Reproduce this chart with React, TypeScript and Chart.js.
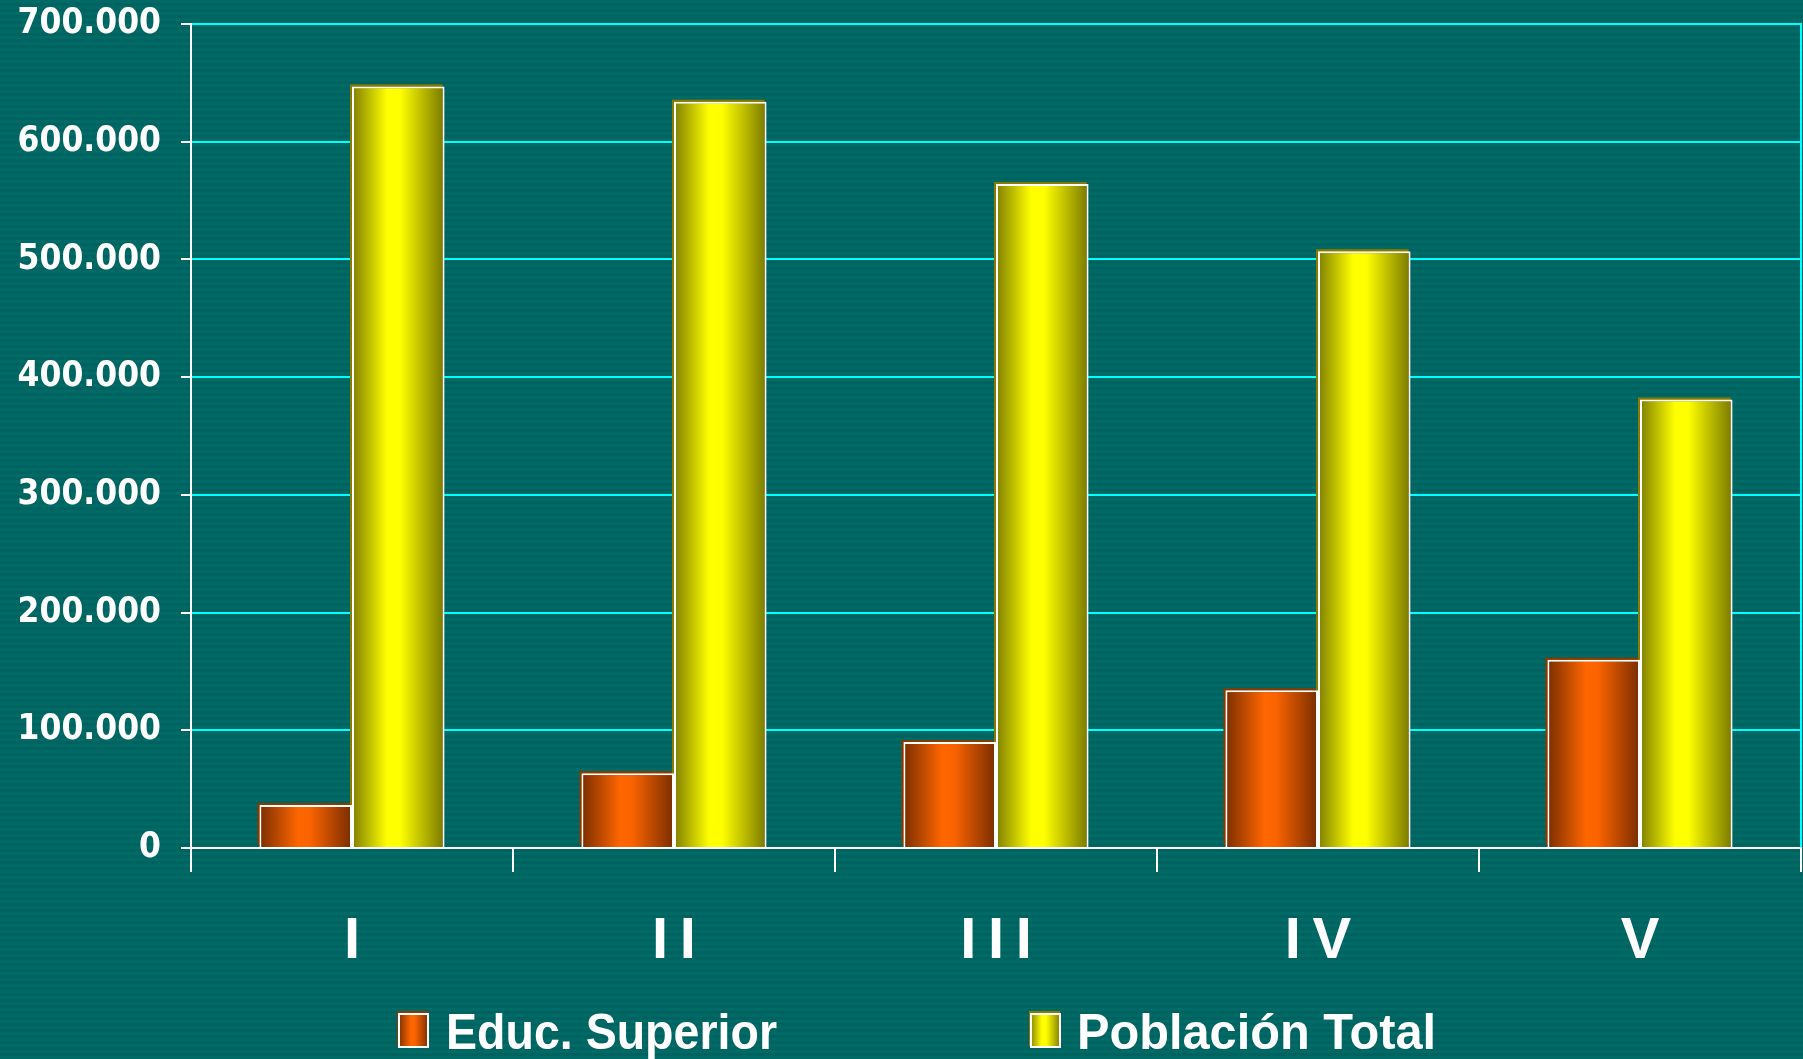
import { useEffect, useRef } from "react";
import { Chart, registerables } from "chart.js";

Chart.register(...registerables);

const categories = ["I", "II", "III", "IV", "V"];
const seriesNames = ["Educ. Superior", "Población Total"];
const educSuperior = [36500, 63600, 90000, 134000, 160000];
const poblacionTotal = [647000, 634000, 564000, 507000, 381000];
const yTicks = [0, 100000, 200000, 300000, 400000, 500000, 600000, 700000];

const CAT_PCT = 0.575;
const BAR_PCT = 1;

type Stop = [number, string];
const orangeStops: Stop[] = [
  [0, "#7a2e00"],
  [0.42, "#ff6600"],
  [0.55, "#f96300"],
  [1, "#782d00"],
];
const yellowStops: Stop[] = [
  [0, "#7f7f00"],
  [0.38, "#ffff00"],
  [0.52, "#ffff00"],
  [1, "#787800"],
];
const shadowColors = ["#8a3a00", "#8a7a00"];

function makeGradient(ctx: CanvasRenderingContext2D, left: number, width: number, stops: Stop[]) {
  const g = ctx.createLinearGradient(left, 0, left + width, 0);
  stops.forEach(([o, c]) => g.addColorStop(o, c));
  return g;
}

function barFill(stops: Stop[]) {
  return (c: any) => {
    const chart = c.chart;
    const xs = chart.scales && chart.scales.x;
    if (!xs || c.type !== "data") return stops[1][1];
    const catW = (xs.right - xs.left) / categories.length;
    const groupW = catW * CAT_PCT;
    const slotW = groupW / 2;
    const barW = slotW * BAR_PCT;
    const center = xs.getPixelForValue(c.dataIndex);
    const left = center - groupW / 2 + c.datasetIndex * slotW + (slotW - barW) / 2;
    if (!isFinite(left) || !isFinite(barW) || barW <= 0) return stops[1][1];
    return makeGradient(chart.ctx, left, barW, stops);
  };
}

const formatThousands = (v: number) =>
  v === 0 ? "0" : String(v).replace(/\B(?=(\d{3})+(?!\d))/g, ".");

const backgroundPlugin = {
  id: "stripedBackground",
  beforeDraw(chart: any) {
    const ctx = chart.ctx as CanvasRenderingContext2D;
    const pc = document.createElement("canvas");
    pc.width = 4;
    pc.height = 6;
    const p = pc.getContext("2d")!;
    p.fillStyle = "#006b66";
    p.fillRect(0, 0, 4, 3);
    p.fillStyle = "#00635f";
    p.fillRect(0, 3, 4, 3);
    ctx.save();
    ctx.fillStyle = ctx.createPattern(pc, "repeat")!;
    ctx.fillRect(0, 0, chart.width, chart.height);
    ctx.restore();
  },
};

const shadowPlugin = {
  id: "barShadow",
  beforeDatasetsDraw(chart: any) {
    const ctx = chart.ctx as CanvasRenderingContext2D;
    ctx.save();
    chart.data.datasets.forEach((_: any, di: number) => {
      const meta = chart.getDatasetMeta(di);
      ctx.fillStyle = shadowColors[di];
      meta.data.forEach((el: any) => {
        const { x, y, base, width } = el.getProps(["x", "y", "base", "width"], true);
        ctx.fillRect(x - width / 2 - 2, y - 2, width, base - y);
      });
    });
    ctx.restore();
  },
};

const legendPlugin = {
  id: "customLegend",
  afterDraw(chart: any) {
    const ctx = chart.ctx as CanvasRenderingContext2D;
    const items = [
      { boxX: 398, textX: 446, textW: 331, stops: orangeStops, shadow: shadowColors[0] },
      { boxX: 1030, textX: 1077, textW: 359, stops: yellowStops, shadow: shadowColors[1] },
    ];
    const boxY = 1013;
    const boxW = 31;
    const boxH = 35;
    ctx.save();
    items.forEach((it, i) => {
      ctx.fillStyle = it.shadow;
      ctx.fillRect(it.boxX - 1, boxY - 2, boxW, boxH);
      ctx.fillStyle = makeGradient(ctx, it.boxX, boxW, it.stops);
      ctx.fillRect(it.boxX, boxY, boxW, boxH);
      ctx.strokeStyle = "#ffffff";
      ctx.lineWidth = 2;
      ctx.strokeRect(it.boxX + 1, boxY + 1, boxW - 2, boxH - 2);
      ctx.fillStyle = "#ffffff";
      ctx.font = "bold 50px 'Liberation Sans', Arial, sans-serif";
      ctx.textBaseline = "alphabetic";
      ctx.textAlign = "left";
      ctx.fillText(seriesNames[i], it.textX, 1049, it.textW);
    });
    ctx.restore();
  },
};

export default function App() {
  const ref = useRef<HTMLCanvasElement | null>(null);
  useEffect(() => {
    document.body.style.margin = "0";
    const canvas = ref.current!;
    const chart = new Chart(canvas, {
      type: "bar",
      data: {
        labels: categories,
        datasets: [
          {
            label: seriesNames[0],
            data: educSuperior,
            backgroundColor: barFill(orangeStops) as any,
            borderColor: "#ffffff",
            borderWidth: 2,
            borderSkipped: "start",
            categoryPercentage: CAT_PCT,
            barPercentage: BAR_PCT,
          },
          {
            label: seriesNames[1],
            data: poblacionTotal,
            backgroundColor: barFill(yellowStops) as any,
            borderColor: "#ffffff",
            borderWidth: 2,
            borderSkipped: "start",
            categoryPercentage: CAT_PCT,
            barPercentage: BAR_PCT,
          },
        ],
      },
      options: {
        animation: false,
        responsive: false,
        devicePixelRatio: 1,
        layout: { padding: { top: 4, right: 2, left: 0, bottom: 91 } },
        plugins: { legend: { display: false }, tooltip: { enabled: false } },
        scales: {
          x: {
            grid: {
              display: true,
              drawOnChartArea: false,
              color: "#ffffff",
              lineWidth: 2,
              tickLength: 24,
              offset: true,
            },
            border: { color: "#ffffff", width: 2, z: 1 },
            ticks: {
              color: "#ffffff",
              font: { family: "'Liberation Sans', Arial, sans-serif", size: 58, weight: "bold", lineHeight: 1 },
              padding: 41,
              maxRotation: 0,
              autoSkip: false,
              callback: (_v: any, i: number) => categories[i].split("").join("\u2009"),
            },
            afterFit: (s: any) => {
              s.height = 120;
            },
          },
          y: {
            min: 0,
            max: 700000,
            afterBuildTicks: (s: any) => {
              s.ticks = yTicks.map((v) => ({ value: v }));
            },
            ticks: {
              color: "#ffffff",
              font: { family: "'DejaVu Sans Condensed', 'DejaVu Sans', sans-serif", size: 35, weight: "bold" },
              padding: 20,
              callback: (v: any) => formatThousands(Number(v)),
            },
            grid: { color: "#00ffff", lineWidth: 2, tickColor: "#ffffff", tickLength: 10 },
            border: { color: "#ffffff", width: 2, z: 1 },
            afterFit: (s: any) => {
              s.width = 191;
              s.paddingTop = 24;
              s.paddingBottom = 0;
            },
          },
          y2: {
            position: "right",
            min: 0,
            max: 700000,
            grid: { display: false },
            ticks: { display: false },
            border: { color: "#00ffff", width: 2 },
            afterFit: (s: any) => {
              s.width = 0;
              s.paddingTop = 0;
              s.paddingBottom = 0;
            },
          },
        },
      } as any,
      plugins: [backgroundPlugin, shadowPlugin, legendPlugin],
    });
    return () => chart.destroy();
  }, []);
  return (
    <div style={{ position: "fixed", left: 0, top: 0, width: 1803, height: 1059 }}>
      <canvas ref={ref} width={1803} height={1059} style={{ display: "block" }} />
    </div>
  );
}
